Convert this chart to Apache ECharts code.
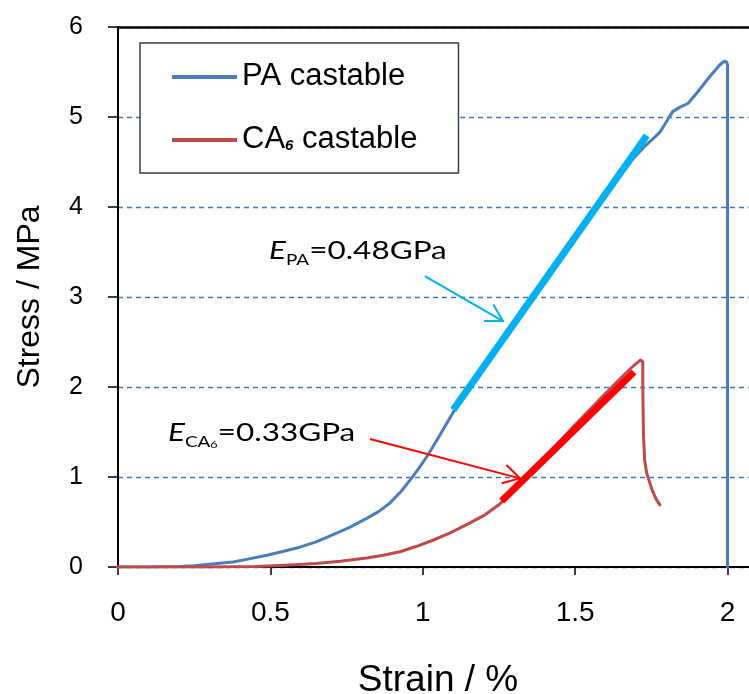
<!DOCTYPE html>
<html>
<head>
<meta charset="utf-8">
<script src="https://cdn.jsdelivr.net/npm/echarts@6/dist/echarts.min.js"></script>
<style>
  html, body { margin: 0; padding: 0; background: #ffffff; }
  #chart { width: 749px; height: 694px; }
</style>
</head>
<body>
<div id="chart"></div>
<script>
// Stress–strain curve of the PA castable (strain in %, stress in MPa)
const paStrain = [0, 0.10, 0.20, 0.25, 0.30, 0.377, 0.43, 0.489, 0.55, 0.597, 0.65, 0.706, 0.76, 0.816, 0.855, 0.892,
  0.93, 0.964, 0.99, 1.018, 1.05, 1.10, 1.20, 1.30, 1.40, 1.50, 1.60, 1.686, 1.73, 1.778, 1.80, 1.82, 1.844, 1.87,
  1.90, 1.942, 1.975, 1.99, 1.997, 2.0, 2.0];
const paStress = [0, 0, 0.005, 0.015, 0.03, 0.056, 0.09, 0.13, 0.18, 0.22, 0.28, 0.36, 0.44, 0.54, 0.615, 0.71,
  0.845, 0.99, 1.11, 1.25, 1.43, 1.72, 2.21, 2.71, 3.20, 3.68, 4.12, 4.52, 4.68, 4.83, 4.95, 5.06, 5.11, 5.15,
  5.27, 5.45, 5.58, 5.62, 5.61, 5.58, 0];

// Stress–strain curve of the CA6 castable
const ca6Strain = [0, 0.30, 0.45, 0.55, 0.65, 0.73, 0.816, 0.87, 0.925, 0.98, 1.035, 1.09, 1.144, 1.20, 1.253, 1.30,
  1.40, 1.50, 1.60, 1.68, 1.70, 1.715, 1.722, 1.722, 1.724, 1.728, 1.735, 1.752, 1.765, 1.778];
const ca6Stress = [0, 0, 0.005, 0.02, 0.04, 0.065, 0.10, 0.13, 0.17, 0.23, 0.30, 0.38, 0.47, 0.57, 0.70, 0.86,
  1.22, 1.58, 1.93, 2.20, 2.26, 2.30, 2.28, 2.00, 1.49, 1.19, 1.04, 0.86, 0.76, 0.69];

// Elastic moduli (GPa) of the linear fits, with the strain span and centre of each fit
const fitModulus = [0.48, 0.33];
const fitSpan = [[1.10, 1.735], [1.259, 1.693]];
const fitCentre = [[1.4175, 3.27], [1.476, 1.45]];

// Annotation arrows (strain, stress): tail and head
const arrowTail = [[1.007, 3.233], [0.827, 1.422]];
const arrowHead = [[1.263, 2.733], [1.319, 0.985]];

const strainTicks = [0, 0.5, 1, 1.5, 2];
const stressTicks = [0, 1, 2, 3, 4, 5, 6];

const zip = (xs, ys) => xs.map((x, i) => [x, ys[i]]);
// A modulus in GPa is a slope of E*10 MPa per % strain
const fitLine = (k) => fitSpan[k].map(x => [x, fitCentre[k][1] + fitModulus[k] * 10 * (x - fitCentre[k][0])]);

const AXIS_FONT = '"Liberation Sans", Arial, sans-serif';
const NOTE_FONT = 'Lato, "Open Sans", sans-serif';
const arrowColors = ['#00B0F0', '#FF0000'];
const STRAIN_MAX = 2.1;

const chart = echarts.init(document.getElementById('chart'), null, { renderer: 'canvas' });

const noteRich = {
  e: { fontFamily: NOTE_FONT, fontSize: 25, fontStyle: 'italic', lineHeight: 25, padding: [0, 0, 5, 0], verticalAlign: 'bottom', color: '#000' },
  n: { fontFamily: NOTE_FONT, fontSize: 25, lineHeight: 25, padding: [0, 0, 5, 0], verticalAlign: 'bottom', color: '#000' },
  s: { fontFamily: NOTE_FONT, fontSize: 15, lineHeight: 15, verticalAlign: 'bottom', color: '#000' },
  t: { fontFamily: NOTE_FONT, fontSize: 10, lineHeight: 10, verticalAlign: 'bottom', color: '#000' }
};

chart.setOption({
  animation: false,
  backgroundColor: '#ffffff',
  grid: {
    left: 118, top: 27, width: 640, height: 540,
    outerBoundsMode: 'none', containLabel: false,
    show: false
  },
  legend: {
    orient: 'vertical',
    left: 140, top: 43,
    padding: [18, 41, 18, 32],
    itemGap: 32,
    itemWidth: 65, itemHeight: 4,
    icon: 'rect',
    backgroundColor: '#ffffff',
    borderColor: '#3f3f3f', borderWidth: 1.5,
    data: ['PA castable', 'CA6 castable'],
    formatter: (name) => name === 'CA6 castable' ? '{a|CA}{b|6}{a| castable}' : '{a|' + name + '}',
    textStyle: {
      rich: {
        a: { fontFamily: AXIS_FONT, fontSize: 31, lineHeight: 30, color: '#000', verticalAlign: 'bottom' },
        b: { fontFamily: AXIS_FONT, fontSize: 15, fontStyle: 'italic', fontWeight: 'bold', lineHeight: 15, padding: [0, 0, 2, 0], color: '#000', verticalAlign: 'bottom' }
      }
    }
  },
  xAxis: [
    {
      type: 'value', min: 0, max: STRAIN_MAX, interval: 0.5,
      name: 'Strain / %', nameLocation: 'middle', nameGap: 95,
      nameTextStyle: { fontFamily: AXIS_FONT, fontSize: 37, color: '#000' },
      axisLine: { show: true, onZero: false, lineStyle: { color: '#000', width: 2 } },
      axisTick: { show: true, inside: false, length: 8, customValues: strainTicks, lineStyle: { color: '#000', width: 1.5 } },
      axisLabel: { customValues: strainTicks, margin: 32, fontFamily: AXIS_FONT, fontSize: 28, color: '#000' },
      splitLine: { show: false }
    },
    {
      // frame line along the top of the plot
      type: 'value', position: 'top', min: 0, max: STRAIN_MAX,
      axisLine: { show: true, onZero: false, lineStyle: { color: '#000', width: 2.5 } },
      axisTick: { show: false }, axisLabel: { show: false }, splitLine: { show: false }
    }
  ],
  yAxis: {
    type: 'value', min: 0, max: 6, interval: 1,
    name: 'Stress / MPa', nameLocation: 'middle', nameGap: 72, nameRotate: 90,
    nameTextStyle: { fontFamily: AXIS_FONT, fontSize: 32, color: '#000' },
    axisLine: { show: true, lineStyle: { color: '#000', width: 2 } },
    axisTick: { show: true, inside: false, length: 10, customValues: stressTicks, lineStyle: { color: '#000', width: 1.5 } },
    axisLabel: { customValues: stressTicks, margin: 35, fontFamily: AXIS_FONT, fontSize: 25, color: '#000' },
    splitLine: { show: true, lineStyle: { color: '#3F76C0', width: 1.3, type: [5, 4] } }
  },
  series: [
    {
      name: 'PA castable', type: 'line', data: zip(paStrain, paStress),
      showSymbol: false, symbol: 'none', z: 3,
      lineStyle: { color: '#4A7EBB', width: 3, cap: 'round', join: 'round' },
      itemStyle: { color: '#4A7EBB' }
    },
    {
      name: 'CA6 castable', type: 'line', data: zip(ca6Strain, ca6Stress),
      showSymbol: false, symbol: 'none', z: 4,
      lineStyle: { color: '#BE4B48', width: 3, cap: 'round', join: 'round' },
      itemStyle: { color: '#BE4B48' }
    },
    {
      name: 'PA fit', type: 'line', data: fitLine(0),
      showSymbol: false, symbol: 'none', z: 5,
      lineStyle: { color: '#00B0F0', width: 7 }
    },
    {
      name: 'CA6 fit', type: 'line', data: fitLine(1),
      showSymbol: false, symbol: 'none', z: 5,
      lineStyle: { color: '#FF0000', width: 7 }
    },
    {
      name: 'arrows', type: 'custom', z: 6, silent: true, clip: false,
      data: arrowTail.map((t, i) => [t[0], t[1], arrowHead[i][0], arrowHead[i][1]]),
      encode: { x: [0, 2], y: [1, 3] },
      renderItem: (params, api) => {
        const p0 = api.coord([api.value(0), api.value(1)]);
        const p1 = api.coord([api.value(2), api.value(3)]);
        const ang = Math.atan2(p0[1] - p1[1], p0[0] - p1[0]);
        const L = 19, h = 0.52;
        const a1 = [p1[0] + L * Math.cos(ang + h), p1[1] + L * Math.sin(ang + h)];
        const a2 = [p1[0] + L * Math.cos(ang - h), p1[1] + L * Math.sin(ang - h)];
        const color = arrowColors[params.dataIndex];
        return {
          type: 'group',
          children: [
            { type: 'line', shape: { x1: p0[0], y1: p0[1], x2: p1[0], y2: p1[1] }, style: { stroke: color, lineWidth: 2 } },
            { type: 'polyline', shape: { points: [a1, p1, a2] }, style: { stroke: color, lineWidth: 2, fill: null } }
          ]
        };
      }
    }
  ],
  graphic: [
    {
      type: 'text', x: 269, y: 243, scaleX: 1.26, z: 10,
      style: { text: '{e|E}{s|PA}{n|=' + fitModulus[0].toFixed(2) + 'GPa}', rich: noteRich, verticalAlign: 'top', align: 'left' }
    },
    {
      type: 'text', x: 168, y: 425, scaleX: 1.26, z: 10,
      style: { text: '{e|E}{s|CA}{t|6}{n|=' + fitModulus[1].toFixed(2) + 'GPa}', rich: noteRich, verticalAlign: 'top', align: 'left' }
    }
  ]
});
</script>
</body>
</html>
